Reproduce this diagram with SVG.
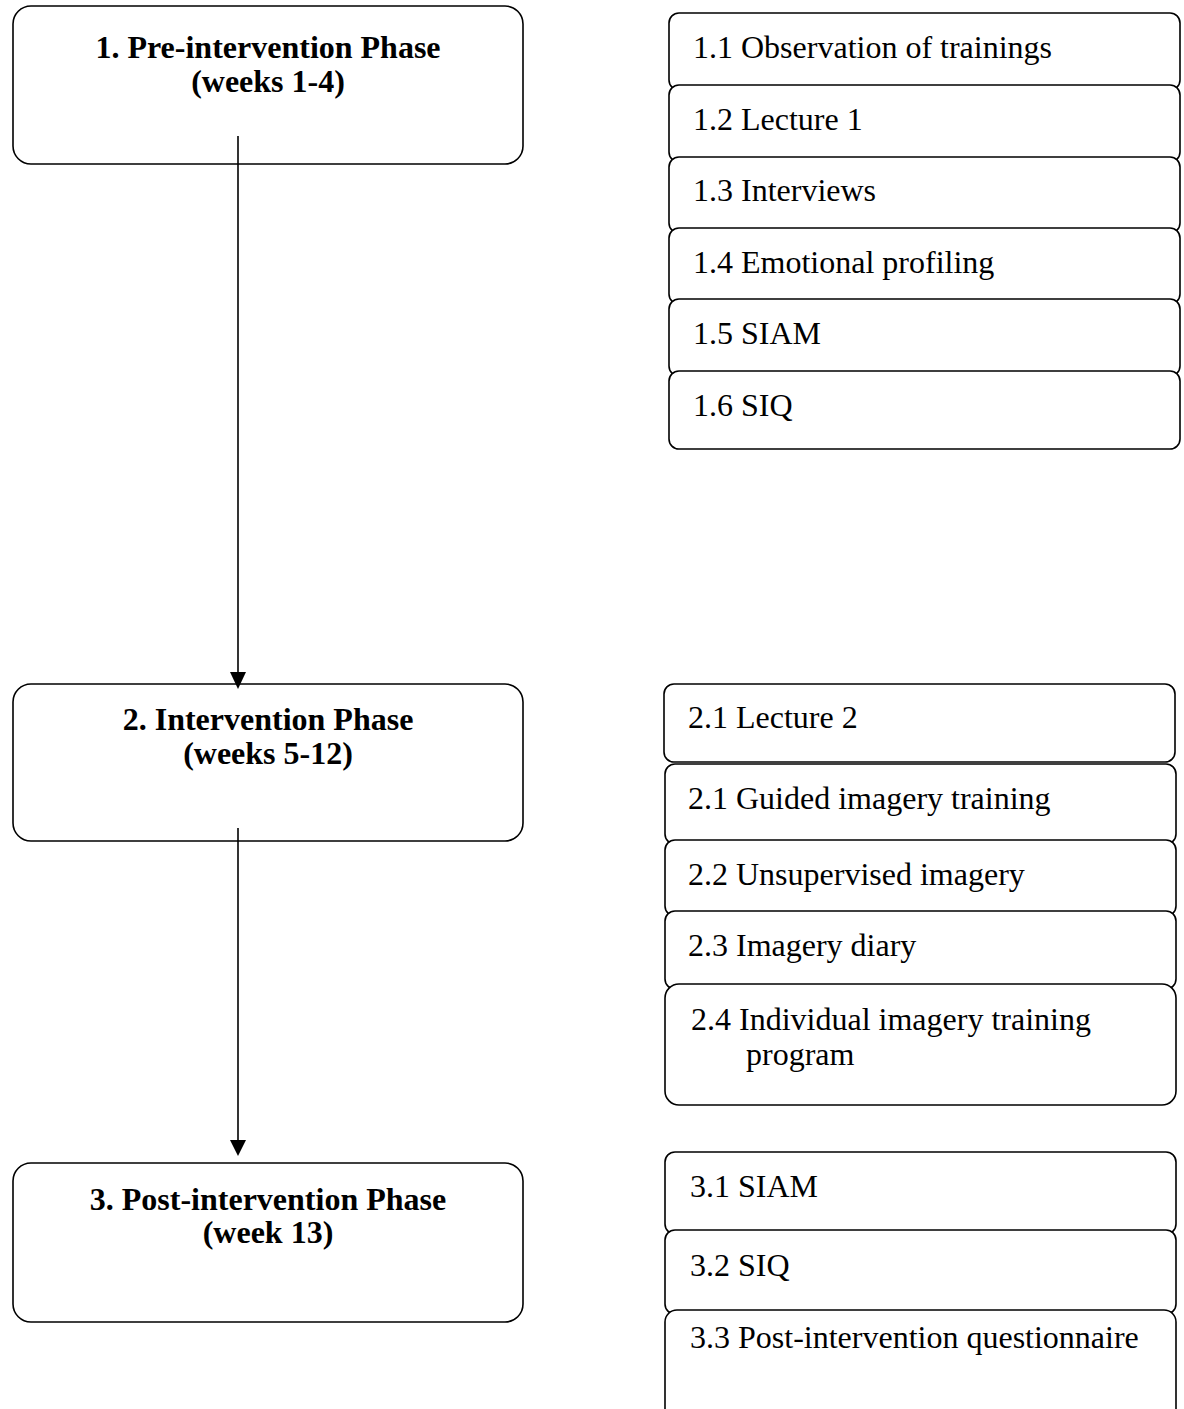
<svg xmlns="http://www.w3.org/2000/svg" width="1184" height="1409" viewBox="0 0 1184 1409">
<style>
.box{fill:#fff;stroke:#000;stroke-width:1.6}
.t{font-family:"Liberation Serif","Times New Roman",serif;font-size:32px;fill:#000}
.b{font-family:"Liberation Serif","Times New Roman",serif;font-size:32px;font-weight:bold;fill:#000;text-anchor:middle}
.c{stroke:#000;stroke-width:1.6;fill:none}
</style>
<rect width="1184" height="1409" fill="#fff"/>
<g id="phase1"><rect class="box" x="13" y="6" width="510" height="158" rx="18"/><text class="b" x="268" y="58">1. Pre-intervention Phase</text><text class="b" x="268" y="92">(weeks 1-4)</text></g>
<g id="phase2"><rect class="box" x="13" y="684" width="510" height="157" rx="18"/><text class="b" x="268" y="730">2. Intervention Phase</text><text class="b" x="268" y="764">(weeks 5-12)</text></g>
<g id="phase3"><rect class="box" x="13" y="1163" width="510" height="159" rx="18"/><text class="b" x="268" y="1210">3. Post-intervention Phase</text><text class="b" x="268" y="1243">(week 13)</text></g>
<g id="connectors">
<line class="c" x1="238" y1="136" x2="238" y2="674"/><polygon points="230,672 246,672 238,689" fill="#000"/>
<line class="c" x1="238" y1="828" x2="238" y2="1142"/><polygon points="230,1140 246,1140 238,1156" fill="#000"/>
</g>
<g id="s1_1"><rect class="box" x="669" y="13" width="511" height="77" rx="10"/><text class="t" x="693" y="58">1.1 Observation of trainings</text></g>
<g id="s1_2"><rect class="box" x="669" y="85" width="511" height="77" rx="10"/><text class="t" x="693" y="130">1.2 Lecture 1</text></g>
<g id="s1_3"><rect class="box" x="669" y="157" width="511" height="76" rx="10"/><text class="t" x="693" y="201">1.3 Interviews</text></g>
<g id="s1_4"><rect class="box" x="669" y="228" width="511" height="76" rx="10"/><text class="t" x="693" y="273">1.4 Emotional profiling</text></g>
<g id="s1_5"><rect class="box" x="669" y="299" width="511" height="77" rx="10"/><text class="t" x="693" y="344">1.5 SIAM</text></g>
<g id="s1_6"><rect class="box" x="669" y="371" width="511" height="78" rx="10"/><text class="t" x="693" y="416">1.6 SIQ</text></g>
<g id="s2_1"><rect class="box" x="664" y="684" width="511" height="78" rx="10"/><text class="t" x="688" y="728">2.1 Lecture 2</text></g>
<g id="s2_2"><rect class="box" x="665" y="764" width="511" height="80" rx="10"/><text class="t" x="688" y="809">2.1 Guided imagery training</text></g>
<g id="s2_3"><rect class="box" x="665" y="840" width="511" height="76" rx="10"/><text class="t" x="688" y="885">2.2 Unsupervised imagery</text></g>
<g id="s2_4"><rect class="box" x="665" y="911" width="511" height="78" rx="10"/><text class="t" x="688" y="956">2.3 Imagery diary</text></g>
<g id="s2_5"><rect class="box" x="665" y="984" width="511" height="121" rx="14"/><text class="t" x="691" y="1030">2.4 Individual imagery training</text><text class="t" x="746" y="1065">program</text></g>
<g id="s3_1"><rect class="box" x="665" y="1152" width="511" height="82" rx="10"/><text class="t" x="690" y="1197">3.1 SIAM</text></g>
<g id="s3_2"><rect class="box" x="665" y="1230" width="511" height="84" rx="10"/><text class="t" x="690" y="1276">3.2 SIQ</text></g>
<g id="s3_3"><rect class="box" x="665" y="1310" width="511" height="120" rx="12"/><text class="t" x="690" y="1348">3.3 Post-intervention questionnaire</text></g>
</svg>
